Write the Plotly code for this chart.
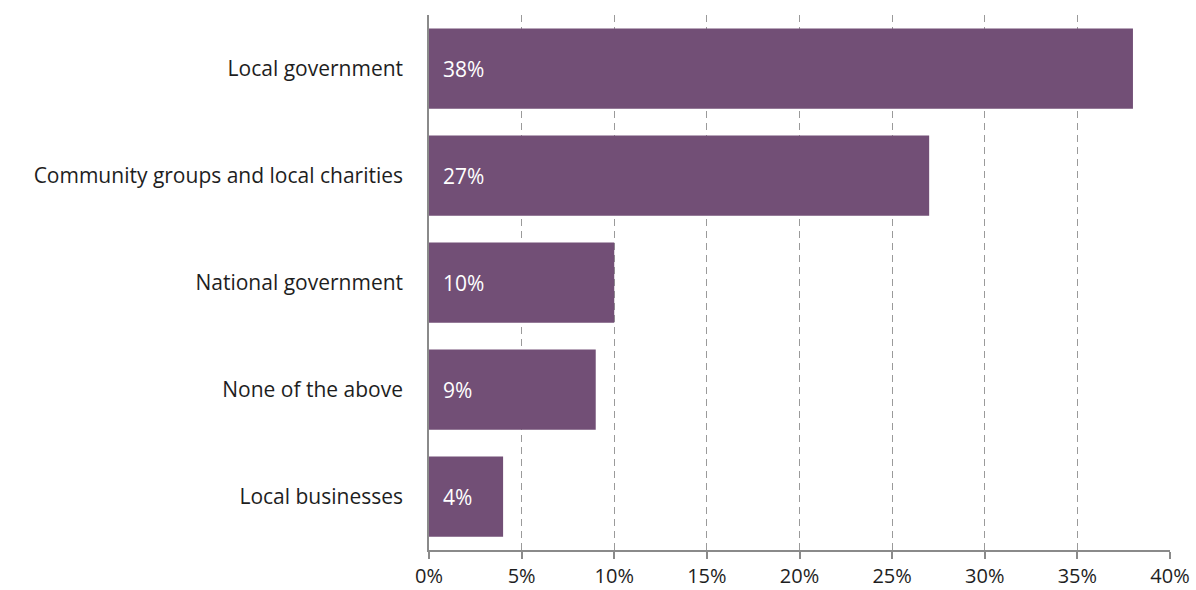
import plotly.graph_objects as go

categories = ["Local government", "Community groups and local charities", "National government", "None of the above", "Local businesses"]
values = [38, 27, 10, 9, 4]
tick_vals = [0, 5, 10, 15, 20, 25, 30, 35, 40]
tick_text = ["0%", "5%", "10%", "15%", "20%", "25%", "30%", "35%", "40%"]

fig = go.Figure(go.Bar(
    x=values, y=categories, orientation="h",
    marker=dict(color="#724f76", line=dict(width=0)),
    text=[f"{v}%" for v in values],
    textposition="inside", insidetextanchor="start",
    texttemplate="  %{text}",
    textfont=dict(color="white", size=21, family="Open Sans"),
    cliponaxis=False,
))

fig.update_layout(
    width=1196, height=590,
    margin=dict(l=429, r=26, t=15, b=40),
    paper_bgcolor="white", plot_bgcolor="white",
    font=dict(family="Open Sans", size=21, color="#1e1e1e"),
    bargap=0.25, showlegend=False,
    xaxis=dict(range=[0, 40], tickvals=tick_vals, ticktext=tick_text,
               showgrid=True, gridcolor="#9a9a9a", griddash="7px,5px", gridwidth=1,
               showline=True, linecolor="#8a8a8a", linewidth=1.5,
               ticks="outside", ticklen=7, tickcolor="#8a8a8a", tickwidth=1.5,
               tickfont=dict(size=20), automargin=False,
               zeroline=False, fixedrange=True),
    yaxis=dict(autorange="reversed", showline=True, linecolor="#8a8a8a", linewidth=1.5,
               showgrid=False, ticks="", ticklabelstandoff=20, zeroline=False,
               automargin=False),
)

fig.write_html("out.html")
